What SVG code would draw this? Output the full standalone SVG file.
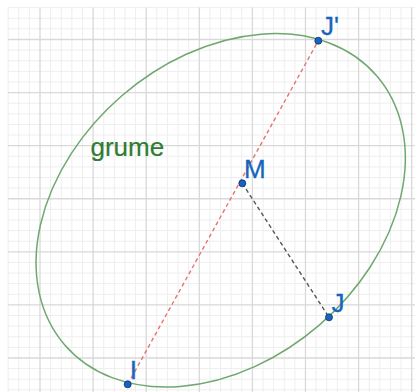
<svg xmlns="http://www.w3.org/2000/svg" width="415" height="392" viewBox="0 0 415 392">
<style>
.minor{stroke:#eeeeee;stroke-width:1;fill:none}
.major{stroke:#d9d9d9;stroke-width:1.3;fill:none}
.pt{fill:#1565c0;stroke:#0d2f6e;stroke-width:0.8}
.lbl{font-family:"Liberation Sans",Arial,sans-serif;font-size:26px;fill:#1565c0;stroke:#1565c0;stroke-width:0.3}
.dash-red{stroke:#e57373;stroke-width:1.4;stroke-dasharray:4 3;fill:none}
.dash-dark{stroke:#555555;stroke-width:1.4;stroke-dasharray:4 3;fill:none}
</style>
<rect width="415" height="392" fill="#ffffff"/>
<g id="grid">
<path class="minor" d="M8.14 7.5V392M18.76 7.5V392M29.38 7.5V392M50.62 7.5V392M61.24 7.5V392M71.86 7.5V392M82.48 7.5V392M103.72 7.5V392M114.34 7.5V392M124.96 7.5V392M135.58 7.5V392M156.82 7.5V392M167.44 7.5V392M178.06 7.5V392M188.68 7.5V392M209.92 7.5V392M220.54 7.5V392M231.16 7.5V392M241.78 7.5V392M263.02 7.5V392M273.64 7.5V392M284.26 7.5V392M294.88 7.5V392M316.12 7.5V392M326.74 7.5V392M337.36 7.5V392M347.98 7.5V392M369.22 7.5V392M379.84 7.5V392M390.46 7.5V392M401.08 7.5V392
M8 7.65H415M8 18.27H415M8 28.88H415M8 50.12H415M8 60.73H415M8 71.35H415M8 81.96H415M8 103.2H415M8 113.81H415M8 124.43H415M8 135.04H415M8 156.28H415M8 166.9H415M8 177.51H415M8 188.12H415M8 209.36H415M8 219.97H415M8 230.59H415M8 241.2H415M8 262.44H415M8 273.05H415M8 283.67H415M8 294.28H415M8 315.52H415M8 326.13H415M8 336.75H415M8 347.36H415M8 368.6H415M8 379.21H415M8 389.83H415"/>
<path class="major" d="M40 7.5V392M93.1 7.5V392M146.2 7.5V392M199.3 7.5V392M252.4 7.5V392M305.5 7.5V392M358.6 7.5V392M411.7 7.5V392
M8 39.5H415M8 92.58H415M8 145.66H415M8 198.74H415M8 251.82H415M8 304.9H415M8 357.98H415"/>
</g>
<g id="grume">
<ellipse cx="220.7" cy="210.3" rx="206" ry="151.3" transform="rotate(-40.8 220.7 210.3)" fill="none" stroke="#6fa86f" stroke-width="1.5"/>
<text x="90.5" y="155.5" font-family="Liberation Sans, Arial, sans-serif" font-size="26" fill="#2e7d32" stroke="#2e7d32" stroke-width="0.2">grume</text>
</g>
<g id="connectors">
<line class="dash-red" x1="127.7" y1="384.3" x2="318.3" y2="40.7"/>
<line class="dash-dark" x1="242.3" y1="183.3" x2="329" y2="317.3"/>
</g>
<g id="node-Jp">
<circle class="pt" cx="318.3" cy="40.7" r="3.5"/>
<text class="lbl" x="321" y="35">J'</text>
</g>
<g id="node-M">
<circle class="pt" cx="242.3" cy="183.3" r="3.5"/>
<text class="lbl" x="244" y="178">M</text>
</g>
<g id="node-J">
<circle class="pt" cx="329" cy="317.3" r="3.5"/>
<text class="lbl" x="331.5" y="311.5">J</text>
</g>
<g id="node-I">
<circle class="pt" cx="127.7" cy="384.3" r="3.5"/>
<text class="lbl" x="129.8" y="379">I</text>
</g>
</svg>
